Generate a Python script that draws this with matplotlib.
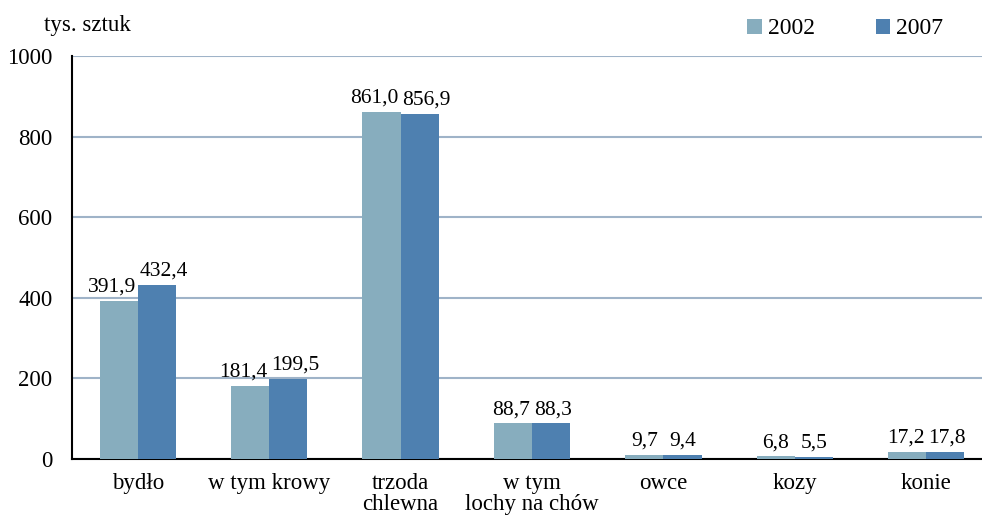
import matplotlib.pyplot as plt
import numpy as np

plt.rcParams['font.family'] = ['Liberation Serif', 'DejaVu Serif']

kategorie = ["bydło", "w tym krowy", "trzoda\nchlewna", "w tym\nlochy na chów",
             "owce", "kozy", "konie"]
v2002 = [391.9, 181.4, 861.0, 88.7, 9.7, 6.8, 17.2]
v2007 = [432.4, 199.5, 856.9, 88.3, 9.4, 5.5, 17.8]
yticks = [0, 200, 400, 600, 800, 1000]

c2002 = "#87adbe"
c2007 = "#4e80b0"

fig = plt.figure(figsize=(9.82, 5.18), dpi=100)
ax = fig.add_axes([72/982, 59/518, 910/982, 403/518])

x = np.arange(len(kategorie))
w = 0.29
b1 = ax.bar(x - w/2, v2002, w, color=c2002, label="2002", zorder=3)
b2 = ax.bar(x + w/2, v2007, w, color=c2007, label="2007", zorder=3)

def fmt(v):
    return f"{v:.1f}".replace(".", ",")

etykiety = []
for bars, vals in ((b1, v2002), (b2, v2007)):
    rz = []
    for r, v in zip(bars, vals):
        t = ax.annotate(fmt(v), (r.get_x() + r.get_width()/2, v),
                        xytext=(0, 3), textcoords="offset points",
                        ha="center", va="bottom", fontsize=15.5)
        rz.append(t)
    etykiety.append(rz)

ax.set_ylim(0, 1000)
ax.set_xlim(-0.5, 6.5 - 10/131.5)
ax.set_yticks(yticks)
ax.set_yticklabels([str(t) for t in yticks], fontsize=16.5)
ax.set_xticks(x)
ax.set_xticklabels(kategorie, fontsize=16.5, linespacing=1.0)
ax.tick_params(axis="x", length=0, pad=10)
ax.tick_params(axis="y", length=0, pad=14)
ax.yaxis.grid(True, color="#9fb3c8", linewidth=1.5, zorder=0)
ax.set_axisbelow(True)
for s in ["top", "right"]:
    ax.spines[s].set_visible(False)
ax.spines["left"].set_linewidth(1.5)
ax.spines["bottom"].set_linewidth(1.5)

# rozsun etykiety, jesli na siebie nachodza
fig.canvas.draw()
rend = fig.canvas.get_renderer()
for t1, t2 in zip(etykiety[0], etykiety[1]):
    e1 = t1.get_window_extent(rend)
    e2 = t2.get_window_extent(rend)
    nach = e1.x1 - e2.x0 + 4
    if nach > 0:
        d = nach / 2 * 72 / fig.dpi
        t1.set_position((-d, 3))
        t2.set_position((d, 3))

fig.text(44/982, 1 - 25/518, "tys. sztuk", fontsize=16.5, va="center", ha="left")

fig.legend(loc="center right", bbox_to_anchor=(943/982, 1 - 29/518), ncol=2,
           frameon=False, fontsize=17, handlelength=0.6, handleheight=0.6,
           columnspacing=2.6, handletextpad=0.25, borderpad=0, borderaxespad=0)

fig.savefig("out.png", dpi=100)
